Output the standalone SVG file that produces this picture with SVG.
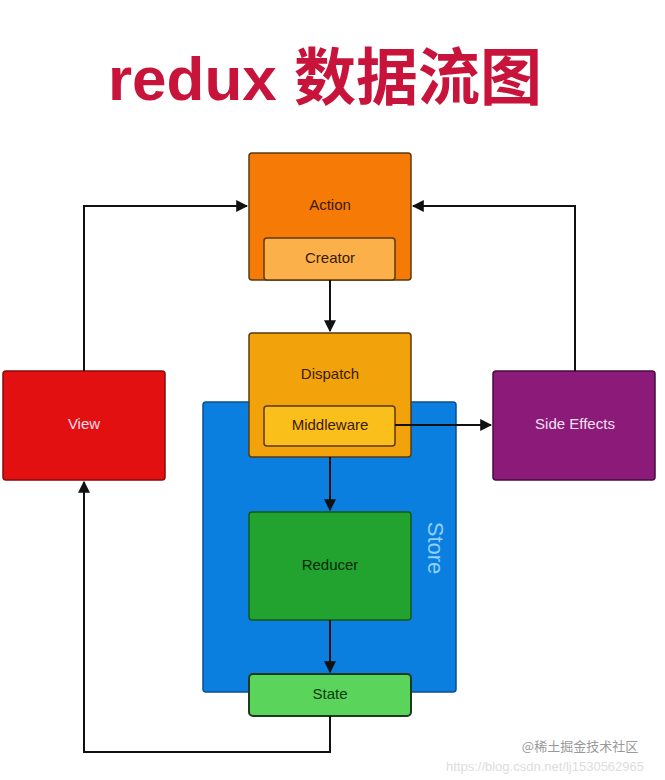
<svg xmlns="http://www.w3.org/2000/svg" width="665" height="780" viewBox="0 0 665 780">
<defs>
<marker id="ah" viewBox="0 0 10 10" refX="9" refY="5" markerWidth="6" markerHeight="6" orient="auto"><path d="M0,0 L10,5 L0,10 z" fill="#111"/></marker>
<style>
.b{stroke:#5a3a10;stroke-width:1.5}
.t{font-family:"Liberation Sans",Arial,sans-serif;font-size:15px;text-anchor:middle}
.c{fill:none;stroke:#111;stroke-width:2;marker-end:url(#ah)}
</style>
</defs>
<rect width="665" height="780" fill="#fff"/>
<text x="325" y="100" font-family="'Liberation Sans','Noto Sans CJK SC',sans-serif" font-weight="bold" font-size="62" fill="#c8143a" text-anchor="middle">redux 数据流图</text>
<g id="store"><rect x="203" y="402" width="253" height="290" rx="3" fill="#0a7fe0" stroke="#0a4f90" stroke-width="1.5"/>
<text x="0" y="0" transform="translate(428,548) rotate(90)" font-family="'Liberation Sans',sans-serif" font-size="22" fill="#8fd0ff" text-anchor="middle">Store</text></g>
<g id="action"><rect class="b" x="249" y="153" width="162" height="127" rx="3" fill="#f57a06"/><text class="t" x="330" y="210" fill="#3a1a00">Action</text></g>
<g id="creator"><rect class="b" x="264" y="238" width="131" height="42" rx="3" fill="#fbb04a"/><text class="t" x="330" y="263" fill="#3a1a00">Creator</text></g>
<g id="dispatch"><rect class="b" x="249" y="333" width="162" height="124" rx="3" fill="#f2a30c"/><text class="t" x="330" y="379" fill="#3a1a00">Dispatch</text></g>
<g id="middleware"><rect class="b" x="264" y="406" width="131" height="40" rx="3" fill="#fbbf1b"/><text class="t" x="330" y="430" fill="#3a1a00">Middleware</text></g>
<g id="reducer"><rect x="249" y="512" width="162" height="108" rx="3" fill="#22a22f" stroke="#125a18" stroke-width="1.5"/><text class="t" x="330" y="570" fill="#0a2a0a">Reducer</text></g>
<g id="state"><rect x="249" y="674" width="162" height="42" rx="4" fill="#5ad45a" stroke="#1e3a1e" stroke-width="2"/><text class="t" x="330" y="699" fill="#0a3a0a">State</text></g>
<g id="view"><rect x="3" y="371" width="162" height="109" rx="3" fill="#e21010" stroke="#8a0a0a" stroke-width="1.5"/><text class="t" x="84" y="429" fill="#fde">View</text></g>
<g id="side"><rect x="493" y="371" width="162" height="109" rx="3" fill="#8b1a79" stroke="#4a0a40" stroke-width="1.5"/><text class="t" x="575" y="429" fill="#f5e0f0">Side Effects</text></g>
<g id="connectors">
<path class="c" d="M84,371 V206 H247"/>
<path class="c" d="M575,371 V206 H413"/>
<path class="c" d="M330,280 V331"/>
<path class="c" d="M395,425 H491"/>
<path class="c" d="M330,457 V510"/>
<path class="c" d="M330,620 V672"/>
<path class="c" d="M330,716 V752 H84 V482"/>
</g>
<text x="580" y="751" font-family="'Noto Sans CJK SC',sans-serif" font-size="13" fill="#999" text-anchor="middle">@稀土掘金技术社区</text>
<text x="545" y="771" font-family="'Liberation Sans',sans-serif" font-size="13" fill="#ddd" text-anchor="middle">https://blog.csdn.net/lj1530562965</text>
</svg>
